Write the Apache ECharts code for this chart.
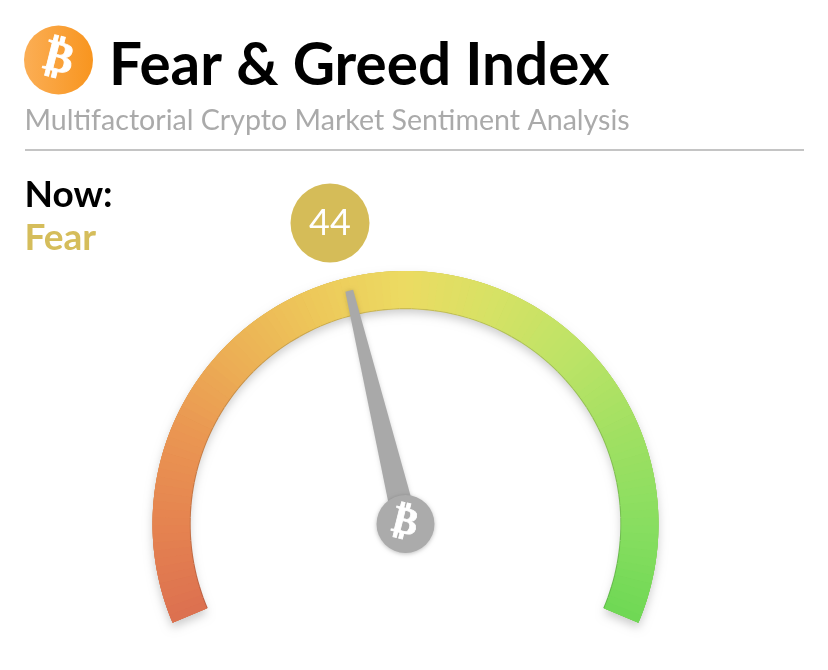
<!DOCTYPE html>
<html><head><meta charset="utf-8">
<style>html,body{margin:0;padding:0;background:#fff}#c{width:828px;height:670px}</style>
<script src="https://cdn.jsdelivr.net/npm/echarts@6/dist/echarts.min.js"></script>
</head><body><div id="c"></div>
<script>
const headline = 'Fear & Greed Index';
const subtitle = 'Multifactorial Crypto Market Sentiment Analysis';
const nowLabel = 'Now:';
const sentiment = 'Fear';
const indexValue = 44;
const axisRange = [0, 100];
const gradientPositions = [0, 0.1, 0.2, 0.3, 0.4, 0.5, 0.6, 0.7, 0.8, 0.9, 1];
const gradientColors = ['#dc7050','#e58350','#ea9652','#ecb055','#edc85a','#ecdb62','#d5e265','#bce366','#a0e062','#88de60','#6fd855'];

function bandColor(t){
  let i = 0;
  while(i < gradientPositions.length-2 && t > gradientPositions[i+1]) i++;
  const f = (t-gradientPositions[i])/(gradientPositions[i+1]-gradientPositions[i]);
  return echarts.color.lerp(f,[gradientColors[i],gradientColors[i+1]]);
}
function bandStops(steps, shade){
  const out = [];
  for(let k=1;k<=steps;k++){
    const c = bandColor((k-0.5)/steps);
    out.push([k/steps, shade ? echarts.color.lerp(shade,[c,'#000000']) : c]);
  }
  return out;
}

const chart = echarts.init(document.getElementById('c'),null,{renderer:'canvas'});
const cx=405.5, cy=524, R=253, W=37;
const base = {type:'gauge',center:[cx,cy],radius:R,startAngle:203,endAngle:-23,min:axisRange[0],max:axisRange[1],
  splitLine:{show:false},axisTick:{show:false},axisLabel:{show:false},title:{show:false},silent:true,animation:false,
  data:[],pointer:{show:false},detail:{show:false}};
const btc = '\u20BF';
const tilt = -14*Math.PI/180;
chart.setOption({
  animation:false,
  title:[
    {text:headline,left:109,top:37,padding:0,textStyle:{fontFamily:'Lato',fontWeight:'bold',fontSize:58.4,color:'#000'}},
    {text:subtitle,left:24.5,top:106,padding:0,textStyle:{fontFamily:'Lato',fontWeight:'normal',fontSize:28.6,color:'#aaaaaa'}},
    {text:nowLabel,left:24.5,top:177,padding:0,textStyle:{fontFamily:'Lato',fontWeight:'bold',fontSize:37,color:'#000'}},
    {text:sentiment,left:24.5,top:220,padding:0,textStyle:{fontFamily:'Lato',fontWeight:'bold',fontSize:37,color:'#d5bd5b'}}
  ],
  graphic:[
    {type:'line',shape:{x1:25,y1:150,x2:804,y2:150},style:{stroke:'#b0b0b0',lineWidth:1.5}},
    {type:'circle',shape:{cx:58.5,cy:60,r:34.5},style:{fill:new echarts.graphic.LinearGradient(0,0,1,0,[{offset:0,color:'#fbae55'},{offset:1,color:'#f8951f'}])}},
    {type:'text',x:58.5,y:60,rotation:tilt,style:{text:btc,x:0,y:0,align:'center',verticalAlign:'middle',fontFamily:'DejaVu Sans',fontWeight:'bold',fontSize:44,fill:'#fff',stroke:'#fff',lineWidth:0.8}},
    {type:'text',x:405,y:523.5,z:100,rotation:tilt,style:{text:btc,x:0,y:0,align:'center',verticalAlign:'middle',fontFamily:'DejaVu Sans',fontWeight:'bold',fontSize:38,fill:'#fff',stroke:'#fff',lineWidth:0.8}}
  ],
  series:[
    Object.assign({},base,{
      z:1,
      axisLine:{show:true,lineStyle:{width:W,color:[[1,'#d8c890']],shadowBlur:10,shadowColor:'rgba(0,0,0,0.2)',shadowOffsetY:5}}
    }),
    Object.assign({},base,{z:2,axisLine:{show:true,lineStyle:{width:W+1.2,color:bandStops(73,0.14)}}}),
    Object.assign({},base,{z:3,axisLine:{show:true,lineStyle:{width:W,color:bandStops(97)}}}),
    Object.assign({},base,{
      z:4,data:[{value:indexValue}],
      axisLine:{show:true,roundCap:false,lineStyle:{width:W,color:bandStops(120)}},
      pointer:{show:true,icon:'path://M8.5,0 L16.5,0 L25,240 L0,240 Z',length:240,width:25,offsetCenter:[0,0],
        itemStyle:{color:'#a9a9a9',shadowBlur:4,shadowColor:'rgba(0,0,0,0.15)'}},
      anchor:{show:true,showAbove:true,size:58,icon:'circle',
        itemStyle:{color:'#ababab',borderWidth:0,shadowBlur:4,shadowColor:'rgba(0,0,0,0.25)',shadowOffsetY:1}},
      progress:{show:false},
      detail:{show:true,valueAnimation:false,offsetCenter:[-75.5,-301],formatter:'{value}',padding:0,
        width:79,height:79,lineHeight:79,borderRadius:40,backgroundColor:'#d5bc58',
        color:'#fff',fontFamily:'Lato',fontWeight:'normal',fontSize:36}
    })
  ]
});
</script></body></html>
